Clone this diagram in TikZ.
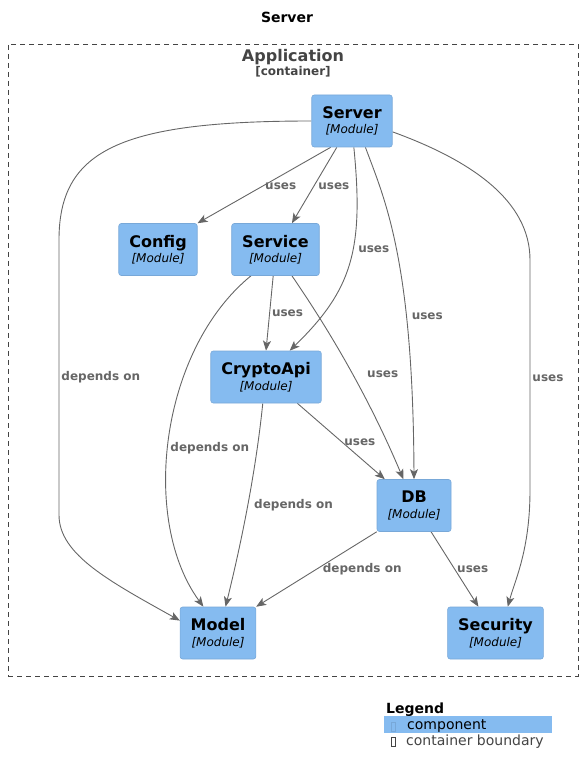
\documentclass[tikz,border=0pt]{standalone}
\usepackage{fontspec}
\setmainfont{DejaVu Sans}
\usepackage{tikz}
\usetikzlibrary{arrows.meta}
\definecolor{CompFill}{HTML}{85BBF0}
\definecolor{CompLine}{HTML}{78A8D8}
\definecolor{EdgeGray}{HTML}{666666}
\definecolor{BoundGray}{HTML}{444444}
\tikzstyle{Component}=[minimum height=52pt, inner xsep=10.5pt, fill=CompFill, draw=CompLine, line width=0.6pt, rounded corners=2.5pt, align=center, text=black, font=\fontsize{12}{15.5}\selectfont]
\tikzstyle{Boundary}=[draw=BoundGray, line width=0.9pt, dash pattern=on 5pt off 4pt, minimum width=570pt, minimum height=632pt]
\tikzstyle{Rel}=[text=EdgeGray, font=\fontsize{12}{14}\selectfont\bfseries, inner sep=2pt]
\tikzstyle{arrow}=[line width=0.9pt, draw=EdgeGray, -{Stealth[length=10pt, width=8pt, inset=2.5pt]}]
\newcommand{\modulebox}[1]{{\fontsize{16}{18}\selectfont\bfseries #1}\\{\itshape [Module]}}
\pgfdeclarelayer{nodelayer}
\pgfdeclarelayer{edgelayer}
\pgfsetlayers{edgelayer, nodelayer, main}

\begin{document}
\begin{tikzpicture}[x=1pt, y=-1pt]
	\useasboundingbox (0,0) rectangle (582,775);
	\begin{pgfonlayer}{nodelayer}
		\node [font=\fontsize{14}{16}\selectfont\bfseries, anchor=base] (title) at (287, 23) {Server};
		\node [style=Boundary] (application) at (293, 360) {};
		\node [font=\fontsize{16}{18}\selectfont\bfseries, text=BoundGray, anchor=base] (apptitle) at (293, 62) {Application};
		\node [font=\fontsize{12}{14}\selectfont\bfseries, text=BoundGray, anchor=base] (apptype) at (293, 76) {[container]};

		\node [style=Component] (server) at (352, 121) {\modulebox{Server}};
		\node [style=Component] (config) at (158, 249.5) {\modulebox{Config}};
		\node [style=Component] (service) at (275.5, 249.5) {\modulebox{Service}};
		\node [style=Component] (cryptoapi) at (266, 377) {\modulebox{CryptoApi}};
		\node [style=Component] (db) at (414, 505.5) {\modulebox{DB}};
		\node [style=Component] (model) at (218, 633) {\modulebox{Model}};
		\node [style=Component] (security) at (495.5, 633) {\modulebox{Security}};

		% legend
		\node [font=\fontsize{14}{16}\selectfont\bfseries, anchor=base west, inner sep=0] (legend) at (386, 713) {Legend};
		\node [fill=CompFill, minimum width=168pt, minimum height=17pt, inner sep=0] (legcomp) at (468, 724.5) {};
		\node [draw=CompLine, line width=0.5pt, minimum width=4pt, minimum height=9pt, inner sep=0] (legcompmark) at (393, 726.5) {};
		\node [font=\fontsize{14}{16}\selectfont, anchor=base west, inner sep=0] (legcomptext) at (407, 729.5) {component};
		\node [draw=BoundGray, line width=0.5pt, minimum width=4pt, minimum height=9pt, inner sep=0] (legboundmark) at (393, 742) {};
		\node [font=\fontsize{14}{16}\selectfont, text=BoundGray, anchor=base west, inner sep=0] (legboundtext) at (406, 745.5) {container boundary};
	\end{pgfonlayer}
	\begin{pgfonlayer}{edgelayer}
		\draw [style=arrow] (server.west) .. controls (120, 121) and (59, 150) .. (59, 240) -- node[Rel, pos=0.5, right] {depends on} (59, 515) .. controls (59, 555) and (111, 582) .. (model.162);
		\draw [style=arrow] (server.231) -- node[Rel, pos=0.51, right] {uses} (config.north east);
		\draw [style=arrow] (server.240) -- node[Rel, pos=0.51, right=2pt] {uses} (service.58);
		\draw [style=arrow] (server.274) .. controls (364, 250) and (352, 290) .. node[Rel, pos=0.42, right=3pt] {uses} (cryptoapi.48);
		\draw [style=arrow] (server.297) .. controls (385, 200) and (413, 260) .. node[Rel, pos=0.69, right=3pt] {uses} (db.north);
		\draw [style=arrow] (server.345) .. controls (470, 160) and (530, 200) .. (530, 260) -- node[Rel, pos=0.513, right] {uses} (530, 490) .. controls (530, 550) and (515, 580) .. (security.65);

		\draw [style=arrow] (service.265) -- node[Rel, pos=0.5, right] {uses} (cryptoapi.north);
		\draw [style=arrow] (service.302) .. controls (336, 340) and (373, 407) .. node[Rel, pos=0.5, right=12pt] {uses} (db.112);
		\draw [style=arrow] (service.227) .. controls (160, 350) and (140, 520) .. node[Rel, pos=0.53, right] {depends on} (model.119);

		\draw [style=arrow] (cryptoapi.263) .. controls (256, 470) and (242, 540) .. node[Rel, pos=0.5, right=4pt] {depends on} (model.74);
		\draw [style=arrow] (cryptoapi.320) -- node[Rel, pos=0.51, right] {uses} (db.138);

		\draw [style=arrow] (db.south west) -- node[Rel, pos=0.5, right=4pt] {depends on} (model.north east);
		\draw [style=arrow] (db.303) -- node[Rel, pos=0.5, right] {uses} (security.123);
	\end{pgfonlayer}
\end{tikzpicture}
\end{document}
